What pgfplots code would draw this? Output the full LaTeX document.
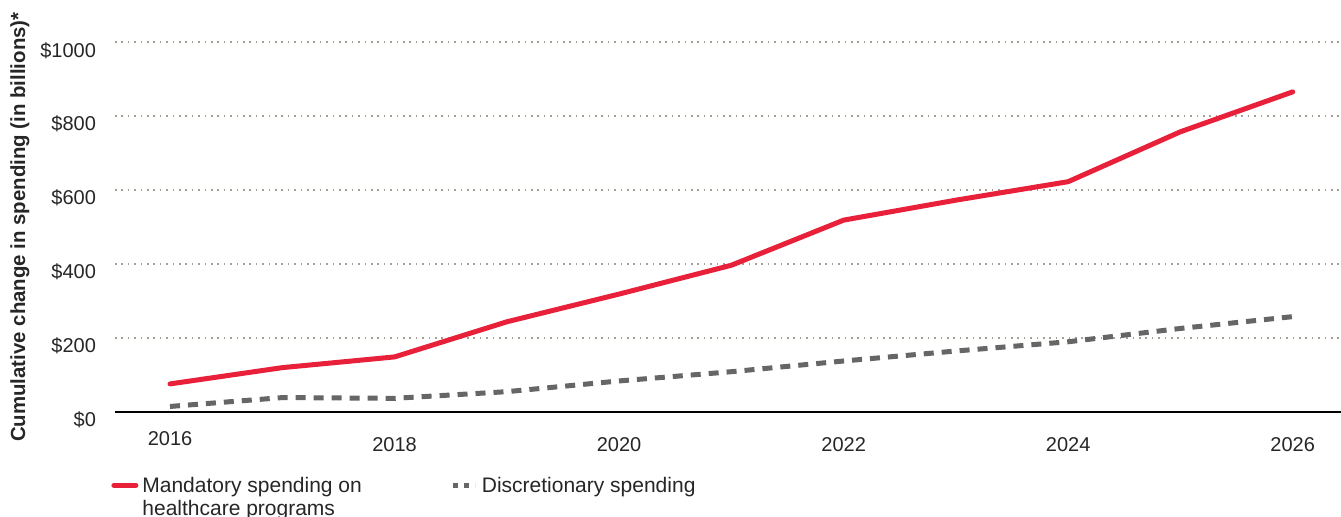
\documentclass[border=0pt]{standalone}
\usepackage{fontspec}
\setmainfont{Liberation Sans}
\usepackage{pgfplots}
\pgfplotsset{compat=1.18}
\definecolor{redline}{HTML}{E8203A}
\definecolor{grayline}{HTML}{666666}
\definecolor{gridc}{HTML}{A89F94}
\begin{document}
\begin{tikzpicture}
\begin{axis}[
  width=613pt, height=184.85pt, scale only axis,
  xmin=2015.51, xmax=2026.43, ymin=0, ymax=1000,
  separate axis lines,
  axis x line*=bottom, axis y line*=left,
  y axis line style={draw=none},
  x axis line style={black, line width=1pt, -},
  major tick length=0pt, tick style={draw=none},
  ytick={0,200,400,600,800,1000},
  yticklabels={\$0,\$200,\$400,\$600,\$800,\$1000},
  xtick={2016,2018,2020,2022,2024,2026},
  xticklabels={\raisebox{3pt}[\height]{2016},2018,2020,2022,2024,2026},
  ymajorgrids, grid style={gridc, line width=1pt, dash pattern=on 0.8pt off 2.4pt},
  tick label style={font=\fontsize{10}{12}\selectfont, text=black!85},
  /pgf/number format/assume math mode=true,
  yticklabel style={anchor=east, xshift=-6pt, yshift=-4pt},
  xticklabel style={anchor=north, yshift=-9pt},
  ylabel={\bfseries Cumulative change in spending (in billions)*},
  ylabel style={at={(axis description cs:0,0.5)}, anchor=center, yshift=47.5pt, font=\fontsize{10.2}{12}\selectfont, text=black!85},
  legend style={at={(axis description cs:0,0)}, anchor=north west, xshift=-2pt, yshift=-30pt,
    draw=none, fill=none, inner sep=0pt, font=\fontsize{10.5}{11.5}\selectfont,
    /tikz/every odd column/.append style={column sep=0pt},
    /tikz/every even column/.append style={column sep=42.5pt},
    cells={anchor=base west, text=black!85}},
  legend columns=2,
  clip=false,
]
\coordinate (O) at (rel axis cs:0,0);
\coordinate (T) at (rel axis cs:1,1);
\addplot[redline, line width=2.5pt, line cap=round, line join=round,
  legend image code/.code={\draw[redline, line width=2.5pt, line cap=round] (1.25pt,3.6pt) -- (10.25pt,3.6pt); \path (0pt,3.6pt) -- (11pt,3.6pt);}]
  coordinates {(2016,76)(2017,120)(2018,149)(2019,244)(2020,319)(2021,397)(2022,519)(2023,573)(2024,623)(2025,758)(2026,866)};
\addlegendentry{\begin{tabular}[t]{@{}l@{}}Mandatory spending on\\healthcare programs\end{tabular}}
\addplot[grayline, line width=2.5pt, dash pattern=on 5pt off 4pt,
  legend image code/.code={\draw[grayline, line width=2.5pt, dash pattern=on 2.5pt off 3pt] (0pt,3.6pt) -- (11pt,3.6pt);}]
  coordinates {(2016,15)(2017,39)(2018,37)(2019,55)(2020,84)(2021,109)(2022,138)(2023,165)(2024,190)(2025,226)(2026,258)};
\addlegendentry{Discretionary spending}
\end{axis}
\pgfresetboundingbox
\path[use as bounding box] ([shift={(-57.5pt,-52pt)}]O) rectangle ([shift={(0pt,21.15pt)}]T);
\end{tikzpicture}
\end{document}
